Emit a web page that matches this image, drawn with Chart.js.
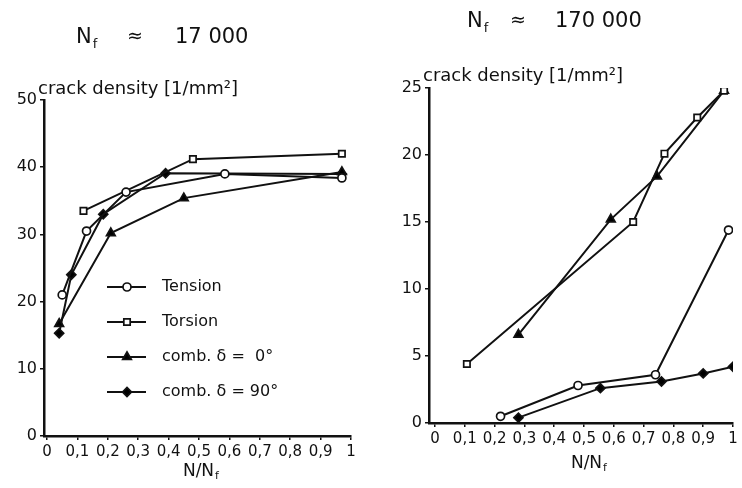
<!DOCTYPE html>
<html>
<head>
<meta charset="utf-8">
<script src="https://cdn.jsdelivr.net/npm/chart.js@4.4.0/dist/chart.umd.min.js"></script>
<style>
body { margin: 0; background: #fff; }
#wrap { position: relative; width: 742px; height: 488px; }
.box { position: absolute; top: 0; }
</style>
</head>
<body>
<div id="wrap">
  <div class="box" style="left:0"><canvas id="left" width="370" height="488"></canvas></div>
  <div class="box" style="left:370px"><canvas id="right" width="372" height="488"></canvas></div>
</div>
<script>
// series names + marker styles
const seriesNames = ['Tension', 'Torsion', 'comb. \u03b4 =  0\u00b0', 'comb. \u03b4 = 90\u00b0'];
const xTicks = [0, 0.1, 0.2, 0.3, 0.4, 0.5, 0.6, 0.7, 0.8, 0.9, 1];
const leftYTicks = [0, 10, 20, 30, 40, 50];
const rightYTicks = [0, 5, 10, 15, 20, 25];

// N_f ~ 17 000
const leftTensionX = [0.05, 0.13, 0.26, 0.585, 0.97];
const leftTensionY = [21, 30.5, 36.3, 39, 38.4];
const leftTorsionX = [0.12, 0.48, 0.97];
const leftTorsionY = [33.5, 41.2, 42];
const leftComb0X = [0.04, 0.21, 0.45, 0.97];
const leftComb0Y = [16.7, 30.2, 35.4, 39.3];
const leftComb90X = [0.04, 0.08, 0.185, 0.39, 0.97];
const leftComb90Y = [15.3, 24, 33, 39.1, 39];

// N_f ~ 170 000
const rightTensionX = [0.22, 0.48, 0.74, 0.985];
const rightTensionY = [0.5, 2.8, 3.6, 14.4];
const rightTorsionX = [0.107, 0.665, 0.77, 0.88, 0.97];
const rightTorsionY = [4.4, 15.0, 20.1, 22.8, 24.8];
const rightComb0X = [0.28, 0.59, 0.745, 0.97];
const rightComb0Y = [6.6, 15.2, 18.4, 24.8];
const rightComb90X = [0.28, 0.555, 0.76, 0.9, 1.0];
const rightComb90Y = [0.4, 2.6, 3.1, 3.7, 4.2];

const markers = [
  { pointStyle: 'circle', radius: 4, fill: '#fff' },
  { pointStyle: 'rect', radius: 4.5, fill: '#fff' },
  { pointStyle: 'triangle', radius: 5, fill: '#000' },
  { pointStyle: 'rectRot', radius: 4.5, fill: '#000' }
];

const FONT = 'DejaVu Sans';

function points(xs, ys) {
  return xs.map((x, i) => ({ x: x, y: ys[i] }));
}

function makeDataset(i, xs, ys) {
  const m = markers[i];
  return {
    label: seriesNames[i],
    data: points(xs, ys),
    showLine: true,
    borderColor: '#111',
    borderWidth: 2,
    pointStyle: m.pointStyle,
    pointRadius: m.radius,
    pointBackgroundColor: m.fill,
    pointBorderColor: '#111',
    pointBorderWidth: 1.7
  };
}

// draws titles, axis titles and (optionally) the legend
function textPlugin(o) {
  return {
    id: 'texts',
    afterDraw(chart) {
      const ctx = chart.ctx;
      ctx.save();
      ctx.fillStyle = '#111';
      ctx.textBaseline = 'alphabetic';
      // title  N_f  ~  number
      ctx.font = '21px "' + FONT + '"';
      ctx.fillText('N', o.titleX, o.titleY);
      const nw = ctx.measureText('N').width;
      ctx.font = '13px "' + FONT + '"';
      ctx.fillText('f', o.titleX + nw + 1, o.titleY + 5);
      ctx.font = '19px "' + FONT + '"';
      ctx.fillText('\u2248', o.titleX + o.eqDx, o.titleY - 1);
      ctx.font = '21px "' + FONT + '"';
      ctx.fillText(o.number, o.titleX + o.numDx, o.titleY);

      // y axis title
      ctx.font = '18px "' + FONT + '"';
      ctx.fillText('crack density [1/mm\u00b2]', o.yTitleX, o.yTitleY);

      // x axis title N/N_f
      ctx.font = '17px "' + FONT + '"';
      const a = 'N/N';
      const aw = ctx.measureText(a).width;
      const x0 = o.xTitleX - (aw + 7) / 2;
      ctx.fillText(a, x0, o.xTitleY);
      ctx.font = '11px "' + FONT + '"';
      ctx.fillText('f', x0 + aw + 1, o.xTitleY + 3);

      if (o.legend) {
        const rows = [287, 322, 357, 392];
        rows.forEach((y, i) => {
          ctx.strokeStyle = '#111';
          ctx.lineWidth = 2;
          ctx.beginPath();
          ctx.moveTo(107, y);
          ctx.lineTo(146, y);
          ctx.stroke();
          const m = markers[i];
          ctx.fillStyle = m.fill;
          ctx.lineWidth = 1.7;
          Chart.helpers.drawPoint(ctx, { pointStyle: m.pointStyle, radius: m.radius, rotation: 0, borderWidth: 1.7 }, 127, y);
          ctx.fillStyle = '#111';
          ctx.font = '16px "' + FONT + '"';
          ctx.textBaseline = 'middle';
          ctx.fillText(seriesNames[i], 162, y);
          ctx.textBaseline = 'alphabetic';
        });
      }
      ctx.restore();
    }
  };
}

function makeChart(id, datasets, yTicks, o) {
  return new Chart(document.getElementById(id), {
    type: 'scatter',
    data: { datasets: datasets },
    options: {
      responsive: false,
      animation: false,
      layout: { padding: { top: o.padTop, right: o.padRight, left: 0, bottom: 0 } },
      plugins: { legend: { display: false }, tooltip: { enabled: false } },
      scales: {
        x: {
          type: 'linear',
          min: o.xMin,
          max: 1,
          afterBuildTicks: s => { s.ticks = xTicks.map(v => ({ value: v })); },
          afterFit: s => { s.height = o.xH; },
          ticks: {
            autoSkip: false,
            maxRotation: 0,
            padding: 3,
            color: '#111',
            font: { family: FONT, size: 15 },
            callback: v => String(v).replace('.', ',')
          },
          grid: { drawOnChartArea: false, color: '#111', tickLength: 4, lineWidth: 1.5 },
          border: { color: '#111', width: 2.5 }
        },
        y: {
          min: 0,
          max: yTicks[yTicks.length - 1],
          afterBuildTicks: s => { s.ticks = yTicks.map(v => ({ value: v })); },
          afterFit: s => { s.width = o.yW; },
          ticks: {
            padding: 3,
            color: '#111',
            font: { family: FONT, size: 16 }
          },
          grid: { drawOnChartArea: false, color: '#111', tickLength: 4, lineWidth: 1.5 },
          border: { color: '#111', width: 2.5 }
        }
      }
    },
    plugins: [textPlugin(o)]
  });
}

makeChart('left', [
  makeDataset(0, leftTensionX, leftTensionY),
  makeDataset(1, leftTorsionX, leftTorsionY),
  makeDataset(2, leftComb0X, leftComb0Y),
  makeDataset(3, leftComb90X, leftComb90Y)
], leftYTicks, {
  padTop: 100, padRight: 19, yW: 44, xH: 52, xMin: -0.0099,
  titleX: 76, titleY: 43, eqDx: 51, numDx: 99, number: '17 000',
  yTitleX: 38, yTitleY: 94, xTitleX: 202, xTitleY: 476, legend: true
});

makeChart('right', [
  makeDataset(0, rightTensionX, rightTensionY),
  makeDataset(1, rightTorsionX, rightTorsionY),
  makeDataset(2, rightComb0X, rightComb0Y),
  makeDataset(3, rightComb90X, rightComb90Y)
], rightYTicks, {
  padTop: 88, padRight: 9, yW: 59, xH: 65, xMin: -0.0201,
  titleX: 97, titleY: 27, eqDx: 43, numDx: 88, number: '170 000',
  yTitleX: 53, yTitleY: 81, xTitleX: 220, xTitleY: 468, legend: false
});
</script>
</body>
</html>
